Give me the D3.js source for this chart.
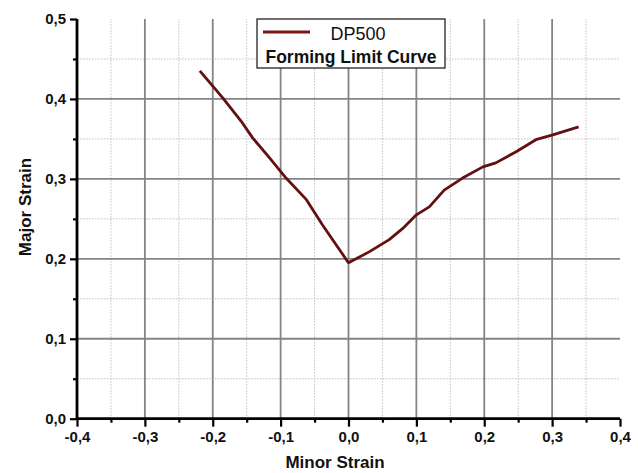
<!DOCTYPE html>
<html>
<head>
<meta charset="utf-8">
<script src="https://cdn.jsdelivr.net/npm/d3@7"></script>
<style>
  html, body { margin: 0; padding: 0; background: #fff; }
  svg { display: block; font-family: "Liberation Sans", Arial, sans-serif; }
</style>
</head>
<body>
<svg id="chart" width="638" height="473"></svg>
<script>
// Forming limit curve of DP500 steel (minor vs. major strain)
const minorStrain = [-0.219, -0.185, -0.158, -0.141, -0.116, -0.092, -0.062, -0.038, 0.000,
                     0.031, 0.060, 0.080, 0.100, 0.119, 0.141, 0.168, 0.198, 0.217, 0.247, 0.276, 0.301, 0.339];
const majorStrain = [0.435, 0.401, 0.372, 0.351, 0.326, 0.301, 0.274, 0.242, 0.195,
                     0.209, 0.224, 0.238, 0.255, 0.265, 0.286, 0.301, 0.315, 0.320, 0.334, 0.349, 0.355, 0.365];
const xTicks = [-0.4, -0.3, -0.2, -0.1, 0.0, 0.1, 0.2, 0.3, 0.4];
const yTicks = [0.0, 0.1, 0.2, 0.3, 0.4, 0.5];
const xMinor = [-0.35, -0.25, -0.15, -0.05, 0.05, 0.15, 0.25, 0.35];
const yMinor = [0.05, 0.15, 0.25, 0.35, 0.45];
const seriesName = "DP500";
const seriesDesc = "Forming Limit Curve";

const svg = d3.select("#chart");
const plotL = 77, plotR = 620, plotT = 19, plotB = 418.7;

const x = d3.scaleLinear().domain([-0.4, 0.4]).range([plotL, plotR]);
const y = d3.scaleLinear().domain([0, 0.5]).range([plotB, plotT]);
const fmt = d => d3.format(".1f")(d).replace(".", ",").replace("−", "-");

// minor grid (dotted)
const grid = svg.append("g");
grid.selectAll(".vminor").data(xMinor).join("line")
  .attr("x1", d => x(d)).attr("x2", d => x(d)).attr("y1", plotB).attr("y2", plotT)
  .attr("stroke", "#c0c0c0").attr("stroke-width", 1).attr("stroke-dasharray", "1.5,1.5");
grid.selectAll(".hminor").data(yMinor).join("line")
  .attr("x1", plotL).attr("x2", plotR).attr("y1", d => y(d)).attr("y2", d => y(d))
  .attr("stroke", "#c0c0c0").attr("stroke-width", 1).attr("stroke-dasharray", "1.5,1.5");

// major grid (solid)
grid.selectAll(".vmajor").data(xTicks.slice(1, -1)).join("line")
  .attr("x1", d => x(d)).attr("x2", d => x(d)).attr("y1", plotB).attr("y2", plotT)
  .attr("stroke", "#848484").attr("stroke-width", 1.8);
grid.selectAll(".hmajor").data(yTicks.slice(1, -1)).join("line")
  .attr("x1", plotL).attr("x2", plotR).attr("y1", d => y(d)).attr("y2", d => y(d))
  .attr("stroke", "#848484").attr("stroke-width", 1.8);

// axes
const xAxis = svg.append("g").attr("transform", `translate(0,${plotB})`)
  .call(d3.axisBottom(x).tickValues(xTicks).tickFormat(fmt).tickSize(8).tickPadding(5));
const yAxis = svg.append("g").attr("transform", `translate(${plotL},0)`)
  .call(d3.axisLeft(y).tickValues(yTicks).tickFormat(fmt).tickSize(7).tickPadding(4));
svg.append("g").attr("transform", `translate(0,${plotB})`)
  .call(d3.axisBottom(x).tickValues(xMinor).tickFormat("").tickSize(4))
  .select(".domain").remove();
svg.append("g").attr("transform", `translate(${plotL},0)`)
  .call(d3.axisLeft(y).tickValues(yMinor).tickFormat("").tickSize(4))
  .select(".domain").remove();

svg.selectAll(".domain").attr("stroke", "#000").attr("stroke-width", 2.8);
svg.selectAll(".tick line").attr("stroke", "#000").attr("stroke-width", 2.2);
svg.selectAll(".tick text").attr("font-family", "'Liberation Sans', Arial, sans-serif")
  .attr("font-size", 15).attr("font-weight", "bold").attr("fill", "#111");
xAxis.select(".domain").attr("d", `M${plotL},0H${plotR}`);
yAxis.select(".domain").attr("d", `M0,${plotB}V${plotT}`);

// axis titles
svg.append("text").attr("x", 335).attr("y", 468).attr("text-anchor", "middle")
  .attr("font-size", 17).attr("font-weight", "bold").attr("fill", "#111").text("Minor Strain");
svg.append("text").attr("transform", "translate(31,207) rotate(-90)").attr("text-anchor", "middle")
  .attr("font-size", 17).attr("font-weight", "bold").attr("fill", "#111").text("Major Strain");

// curve
const pts = minorStrain.map((m, i) => [m, majorStrain[i]]);
svg.append("path").datum(pts)
  .attr("d", d3.line().x(d => x(d[0])).y(d => y(d[1])))
  .attr("fill", "none").attr("stroke", "#621010").attr("stroke-width", 2.8)
  .attr("stroke-linejoin", "round");

// legend
const lg = svg.append("g");
lg.append("rect").attr("x", 257).attr("y", 19).attr("width", 188).attr("height", 49)
  .attr("fill", "#fff").attr("stroke", "#222").attr("stroke-width", 1.3);
lg.append("line").attr("x1", 263).attr("x2", 310).attr("y1", 32).attr("y2", 32)
  .attr("stroke", "#7a1515").attr("stroke-width", 2.8);
lg.append("text").attr("x", 358).attr("y", 40).attr("text-anchor", "middle")
  .attr("font-size", 18).attr("fill", "#111").text(seriesName);
lg.append("text").attr("x", 351).attr("y", 63).attr("text-anchor", "middle")
  .attr("font-size", 17.5).attr("font-weight", "bold").attr("fill", "#111").text(seriesDesc);
</script>
</body>
</html>
